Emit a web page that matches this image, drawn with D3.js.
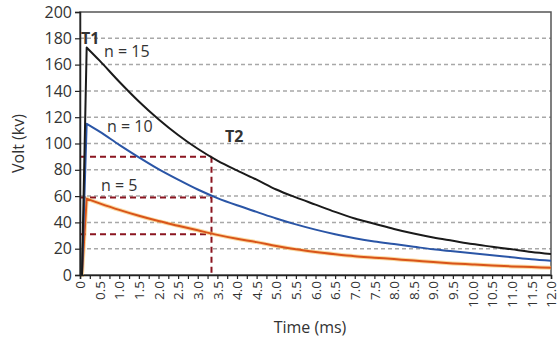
<!DOCTYPE html>
<html lang="en">
<head>
<meta charset="utf-8">
<script src="https://d3js.org/d3.v7.min.js"></script>
<style>
  body { margin: 0; background: #fff; }
  text { font-family: "Open Sans", sans-serif; fill: #333; }
  .grid line { stroke: #a8a8a8; stroke-width: 1.5; stroke-dasharray: 4,3; }
</style>
</head>
<body>
<div id="chart"></div>
<script>
// times (ms) and voltages (kV)
var times = [0, 0.05, 0.17, 0.5, 1.0, 1.5, 2.0, 2.5, 3.0, 3.5, 4.0, 4.5, 5.0, 5.5, 6.0,
             6.5, 7.0, 7.5, 8.0, 8.5, 9.0, 9.5, 10.0, 10.5, 11.0, 11.5, 12.0];
var n15 = [0, 0, 173, 163, 147, 132, 118.5, 106.5, 96, 87, 79.5, 72.5, 65, 59, 53.5,
           48, 43, 39, 35, 31.5, 28.5, 26, 23.5, 21.5, 19.5, 17.5, 16];
var n10 = [0, 0, 115, 109, 99, 89.5, 80.5, 72.5, 65, 58.5, 53, 48, 43, 38.5, 34.5,
           31, 28, 25.5, 23.5, 21.5, 19.5, 18, 16.5, 15, 13.5, 12, 10.8];
var n5 = [0, 0, 58, 54.5, 49.5, 45, 41, 37.5, 34, 30.5, 27.5, 25, 22, 19.5, 17.5,
          15.8, 14.3, 13.2, 12.1, 11, 9.8, 8.8, 8, 7.2, 6.5, 6, 5.5];
var seriesNames = ["n = 15", "n = 10", "n = 5"];
var seriesColors = ["#1a1a1a", "#2a55a6", "#d9541a"];

var yTicks = [0, 20, 40, 60, 80, 100, 120, 140, 160, 180, 200];
var gridValues = [20, 40, 60, 80, 100, 120, 140, 160, 180];

// reference lines: T2 at 3.35 ms, levels 90 / 59 / 31
var t2Time = 3.35;
var refLevels = [90, 59, 31];

var W = 559, H = 342;
var margin = {left: 80, top: 12, right: 8, bottom: 67};

var svg = d3.select('#chart').append('svg').attr('width', W).attr('height', H);

var x = d3.scaleLinear().domain([0, 12]).range([margin.left, W - margin.right]);
var y = d3.scaleLinear().domain([0, 200]).range([H - margin.bottom, margin.top]);

// grid
svg.append('g').attr('class', 'grid')
  .selectAll('line').data(gridValues).enter().append('line')
  .attr('x1', x(0)).attr('x2', x(12))
  .attr('y1', function(d){ return y(d); })
  .attr('y2', function(d){ return y(d); });

// frame
svg.append('rect')
  .attr('x', x(0)).attr('y', y(200))
  .attr('width', x(12) - x(0)).attr('height', y(0) - y(200))
  .attr('fill', 'none').attr('stroke', '#555').attr('stroke-width', 1.5);

// reference dashed lines
var refG = svg.append('g')
  .attr('stroke', '#8b1520').attr('stroke-width', 2).attr('stroke-dasharray', '6,4');
refG.selectAll('line.h').data(refLevels).enter().append('line').attr('class', 'h')
  .attr('x1', x(0)).attr('x2', x(t2Time))
  .attr('y1', function(d){ return y(d); })
  .attr('y2', function(d){ return y(d); });
refG.append('line')
  .attr('x1', x(t2Time)).attr('x2', x(t2Time))
  .attr('y1', y(refLevels[0])).attr('y2', y(0));

// curves: straight rise, smooth decay
var rise = d3.line()
  .x(function(d){ return x(d[0]); })
  .y(function(d){ return y(d[1]); });
var decay = d3.line()
  .x(function(d){ return x(d[0]); })
  .y(function(d){ return y(d[1]); })
  .curve(d3.curveMonotoneX);

[n5, n10, n15].forEach(function(vals, k){
  var idx = 2 - k;
  var pts = times.map(function(t, i){ return [t, vals[i]]; });
  var d = rise(pts.slice(0, 3)) + decay(pts.slice(2)).replace(/^M[^A-Za-z]*/, function(m){ return 'L' + m.slice(1); });
  if (idx === 2) {
    svg.append('path').attr('d', d)
      .attr('fill', 'none').attr('stroke', '#f6c060').attr('stroke-width', 4).attr('stroke-opacity', 0.6);
  }
  svg.append('path').attr('d', d)
    .attr('fill', 'none').attr('stroke', seriesColors[idx]).attr('stroke-width', 2)
    .attr('stroke-linejoin', 'round');
});

// y axis
var yAxis = svg.append('g').attr('transform', 'translate(' + x(0) + ',0)')
  .call(d3.axisLeft(y).tickValues(yTicks).tickSize(5).tickPadding(3));
yAxis.select('.domain').attr('stroke', '#222').attr('stroke-width', 1.5);
yAxis.selectAll('.tick line').attr('stroke', '#222').attr('stroke-width', 1.2);
yAxis.selectAll('text').style('font-size', '16px').attr('fill', '#333');

// x axis
var xTickVals = d3.range(0, 49).map(function(i){ return i * 0.25; });
var xAxis = svg.append('g').attr('transform', 'translate(0,' + y(0) + ')')
  .call(d3.axisBottom(x).tickValues(xTickVals).tickSize(4).tickPadding(3)
    .tickFormat(function(d){
      if (Math.round(d * 4) % 2 !== 0) return '';
      return d === 0 ? '0' : d.toFixed(1);
    }));
xAxis.select('.domain').attr('stroke', '#222').attr('stroke-width', 1.5);
xAxis.selectAll('.tick line').attr('stroke', '#222').attr('stroke-width', 1.2);
xAxis.selectAll('text')
  .style('font-size', '13.5px').attr('fill', '#333')
  .attr('text-anchor', 'end')
  .attr('transform', 'rotate(-90)')
  .attr('x', -6).attr('y', 0).attr('dy', '0.35em');

// axis titles
svg.append('text').attr('x', 310).attr('y', 333).attr('text-anchor', 'middle')
  .style('font-size', '16px').text('Time (ms)');
svg.append('text').attr('transform', 'translate(24,' + y(100) + ') rotate(-90)')
  .attr('text-anchor', 'middle').style('font-size', '16px').text('Volt (kv)');

// annotations
var labelPos = [[104, 57], [107, 132], [101, 191]];
seriesNames.forEach(function(s, i){
  svg.append('text').attr('x', labelPos[i][0]).attr('y', labelPos[i][1])
    .style('font-size', '16px').text(s);
});
svg.append('text').attr('x', 81).attr('y', 44)
  .style('font-size', '16px').style('font-weight', 'bold').attr('fill', '#222').text('T1');
svg.append('text').attr('x', 225).attr('y', 142)
  .style('font-size', '16px').style('font-weight', 'bold').attr('fill', '#222').text('T2');
</script>
</body>
</html>
